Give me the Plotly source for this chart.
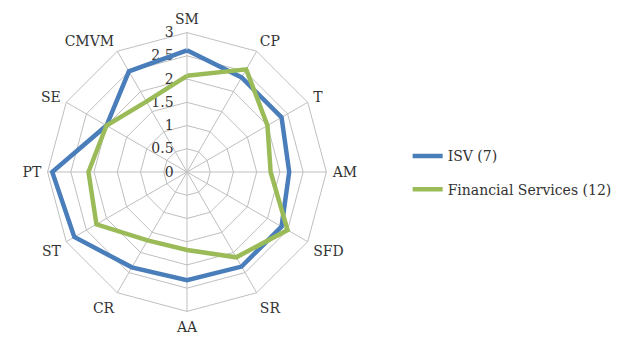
import plotly.graph_objects as go

# Radar chart: capability scores by segment
categories = ["SM", "CP", "T", "AM", "SFD", "SR", "AA", "CR", "ST", "PT", "SE", "CMVM"]
isv_scores = [2.62, 2.35, 2.35, 2.2, 2.35, 2.35, 2.33, 2.37, 2.8, 2.9, 2.0, 2.5]
fin_scores = [2.07, 2.55, 2.0, 1.8, 2.5, 2.12, 1.68, 1.7, 2.25, 2.12, 2.0, 1.75]
series_names = ["ISV (7)", "Financial Services (12)"]
radial_ticks = [0, 0.5, 1, 1.5, 2, 2.5, 3]

BLUE = "#4A7EBB"
GREEN = "#9BBB59"
GRID = "#BFBFBF"
TEXT = "#333333"
FONT = "DejaVu Serif"


def closed(values):
    return list(values) + [values[0]]


fig = go.Figure()
for name, vals, color in [
    (series_names[0], isv_scores, BLUE),
    (series_names[1], fin_scores, GREEN),
]:
    fig.add_trace(
        go.Scatterpolar(
            r=closed(vals),
            theta=closed(categories),
            mode="lines",
            name=name,
            legendgroup=name,
            line=dict(color=color, width=4.5),
        )
    )

fig.update_layout(
    width=644,
    height=343,
    margin=dict(l=0, r=0, t=0, b=0),
    paper_bgcolor="white",
    plot_bgcolor="white",
    font=dict(family=FONT, size=14, color=TEXT),
    polar=dict(
        domain=dict(x=[0.0739, 0.5068], y=[0.0921, 0.905]),
        bgcolor="white",
        gridshape="linear",
        angularaxis=dict(
            direction="clockwise",
            rotation=90,
            layer="below traces",
            showline=True,
            linecolor=GRID,
            linewidth=1,
            gridcolor=GRID,
            gridwidth=1,
            ticks="outside",
            ticklen=3,
            tickcolor="rgba(0,0,0,0)",
            tickfont=dict(family=FONT, size=14, color=TEXT),
        ),
        radialaxis=dict(
            range=[0, 3],
            tickvals=radial_ticks,
            ticktext=[f"{v:g}" for v in radial_ticks],
            angle=90,
            side="counterclockwise",
            layer="below traces",
            showline=False,
            gridcolor=GRID,
            gridwidth=1,
            ticks="outside",
            ticklen=8,
            tickcolor="rgba(0,0,0,0)",
            tickangle=90,
            tickfont=dict(family=FONT, size=14, color=TEXT),
        ),
    ),
    showlegend=True,
    legend=dict(
        x=0.633,
        y=0.496,
        xanchor="left",
        yanchor="middle",
        tracegroupgap=12,
        font=dict(family=FONT, size=14, color=TEXT),
        bgcolor="rgba(0,0,0,0)",
    ),
)

fig.write_html("out.html")
